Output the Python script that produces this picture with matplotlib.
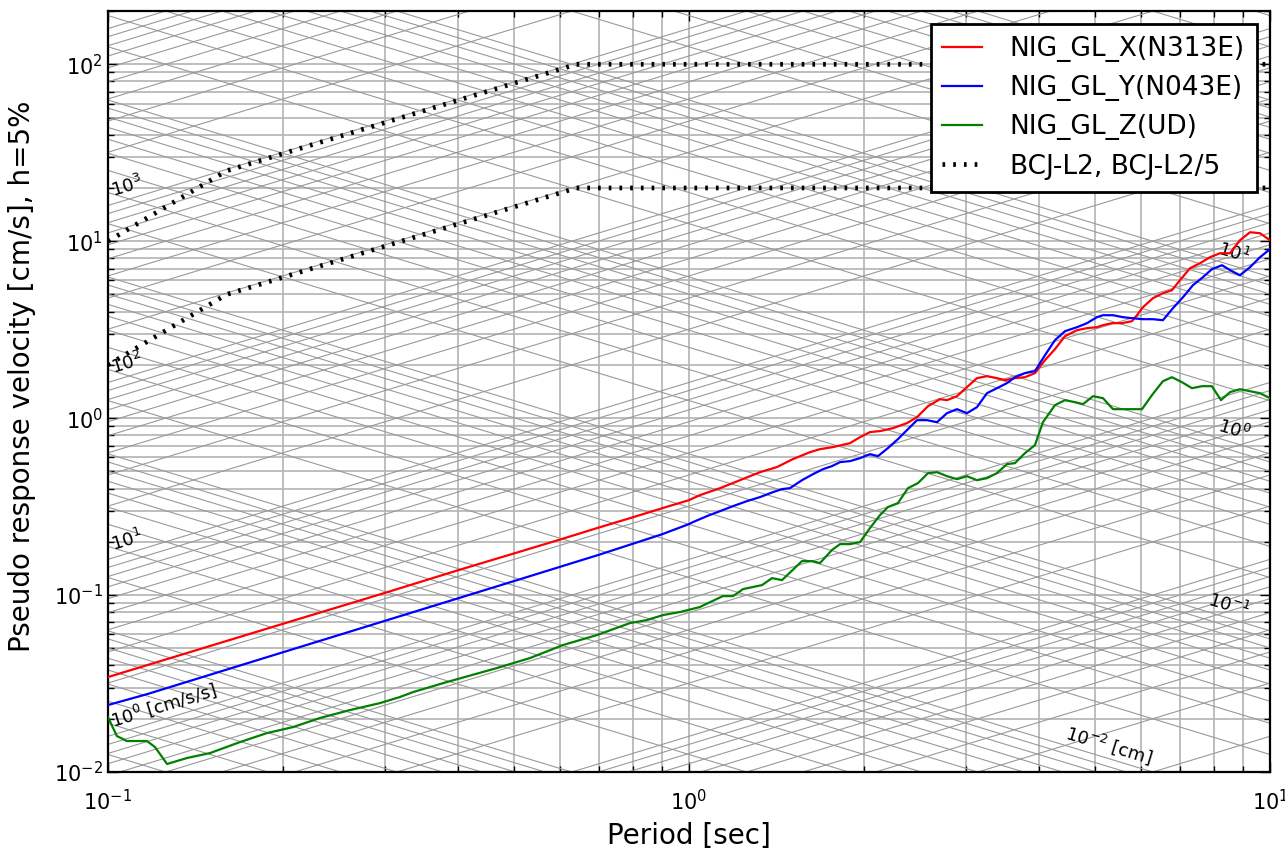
import numpy as np
import matplotlib
matplotlib.use("Agg")
import matplotlib.pyplot as plt

# ---------------- data ----------------
period_x = [0.1, 0.15, 0.2, 0.3, 0.4, 0.5, 0.6, 0.7, 0.8, 0.9, 1.0,
            1.044, 1.131, 1.224, 1.325, 1.417, 1.510, 1.615, 1.681, 1.769, 1.893,
            1.970, 2.049, 2.132, 2.244, 2.372, 2.469, 2.579, 2.704, 2.780, 2.893,
            3.009, 3.131, 3.258, 3.389, 3.499, 3.640, 3.787, 3.940, 4.100, 4.265,
            4.438, 4.655, 4.842, 5.038, 5.159, 5.346, 5.563, 5.787, 5.903, 6.045,
            6.289, 6.543, 6.781, 7.000, 7.285, 7.579, 7.885, 8.204, 8.535, 8.880,
            9.239, 9.612, 10.0]
sv_x = [0.0344, 0.0516, 0.0688, 0.103, 0.138, 0.172, 0.206, 0.241, 0.275, 0.310, 0.344,
        0.367, 0.402, 0.446, 0.495, 0.529, 0.587, 0.642, 0.668, 0.686, 0.722,
        0.781, 0.834, 0.845, 0.878, 0.937, 1.013, 1.169, 1.280, 1.264, 1.331,
        1.497, 1.683, 1.727, 1.683, 1.639, 1.683, 1.704, 1.796, 2.127, 2.454,
        2.906, 3.142, 3.225, 3.267, 3.354, 3.442, 3.442, 3.532, 3.818, 4.238,
        4.764, 5.084, 5.287, 6.021, 7.038, 7.511, 8.122, 8.555, 8.555, 10.13,
        11.24, 11.10, 10.13]

period_y = [0.1, 0.117, 0.2, 0.3, 0.5, 0.7, 0.9, 1.0,
            1.016, 1.074, 1.131, 1.191, 1.259, 1.325, 1.395, 1.446, 1.492, 1.565,
            1.635, 1.701, 1.762, 1.820, 1.893, 1.970, 2.049, 2.115, 2.200, 2.289,
            2.382, 2.469, 2.568, 2.673, 2.780, 2.893, 3.009, 3.131, 3.258, 3.389,
            3.526, 3.640, 3.787, 3.940, 4.100, 4.265, 4.438, 4.655, 4.842, 5.038,
            5.159, 5.369, 5.585, 5.787, 6.045, 6.289, 6.543, 6.808, 7.085, 7.369,
            7.665, 7.944, 8.268, 8.602, 8.880, 9.239, 9.612, 10.0]
sv_y = [0.0239, 0.0276, 0.0475, 0.0716, 0.120, 0.169, 0.221, 0.252,
        0.2585, 0.2795, 0.2982, 0.3183, 0.3398, 0.3578, 0.3819, 0.3971, 0.402, 0.446,
        0.4826, 0.515, 0.5356, 0.5643, 0.5717, 0.5943, 0.626, 0.610, 0.677, 0.761,
        0.867, 0.974, 0.974, 0.949, 1.067, 1.124, 1.067, 1.154, 1.384, 1.477,
        1.577, 1.704, 1.796, 1.843, 2.270, 2.759, 3.101, 3.267, 3.442, 3.721,
        3.818, 3.818, 3.721, 3.673, 3.625, 3.625, 3.578, 4.183, 4.827, 5.642,
        6.260, 6.946, 7.317, 6.768, 6.426, 7.131, 8.122, 9.013]

period_z = [0.1, 0.1036, 0.1078, 0.1167, 0.1205, 0.1264, 0.1368, 0.1499, 0.1688,
            0.1878, 0.2083, 0.2317, 0.2610, 0.294, 0.318, 0.335, 0.3832, 0.4672,
            0.5326, 0.6069, 0.6944, 0.7916, 0.8466, 0.9021, 0.965, 1.044, 1.144,
            1.191, 1.239, 1.336, 1.390, 1.446, 1.565, 1.628, 1.681, 1.762, 1.820,
            1.893, 1.970, 2.049, 2.132, 2.200, 2.289, 2.382, 2.478, 2.579, 2.673,
            2.780, 2.893, 3.009, 3.131, 3.258, 3.389, 3.526, 3.640, 3.787, 3.940,
            4.067, 4.265, 4.438, 4.618, 4.766, 4.960, 5.159, 5.369, 5.674, 6.022,
            6.264, 6.543, 6.781, 7.056, 7.341, 7.638, 7.944, 8.236, 8.535, 8.880,
            9.239, 9.612, 10.0]
sv_z = [0.02045, 0.01597, 0.01497, 0.01497, 0.01384, 0.01110, 0.0120, 0.0128, 0.01477,
        0.0166, 0.01795, 0.0202, 0.0224, 0.02453, 0.02653, 0.0283, 0.03225, 0.0387,
        0.04406, 0.05219, 0.05943, 0.06947, 0.07224, 0.0771, 0.0802, 0.0856, 0.0987,
        0.0987, 0.1081, 0.1139, 0.1247, 0.1215, 0.1556, 0.1556, 0.1517, 0.1796, 0.1941,
        0.1941, 0.1993, 0.2391, 0.2831, 0.3142, 0.3311, 0.402, 0.4293, 0.489, 0.495,
        0.470, 0.452, 0.470, 0.446, 0.458, 0.489, 0.5496, 0.5568, 0.634, 0.704,
        0.949, 1.184, 1.264, 1.231, 1.200, 1.331, 1.297, 1.124, 1.124, 1.124,
        1.349, 1.618, 1.704, 1.597, 1.477, 1.516, 1.516, 1.264, 1.403, 1.458,
        1.420, 1.384, 1.297]

period_bcj = [0.1, 0.16, 0.64, 10.0]
sv_bcj_l2 = [10.0, 25.0, 100.0, 100.0]
sv_bcj_l2_5 = [2.0, 5.0, 20.0, 20.0]

series_labels = ["NIG_GL_X(N313E)", "NIG_GL_Y(N043E)", "NIG_GL_Z(UD)", "BCJ-L2, BCJ-L2/5"]

acc_label_exps = [0, 1, 2, 3]          # [cm/s/s]
disp_label_exps = [-2, -1, 0, 1, 2]    # [cm]

# ---------------- figure ----------------
plt.rcParams['font.family'] = ['DejaVu Sans']
plt.rcParams['mathtext.fontset'] = 'dejavusans'

fig = plt.figure(figsize=(12.85, 8.48), dpi=100)
ax = fig.add_axes([0.084, 0.0896, 0.9043, 0.8974])

TMIN, TMAX = 0.1, 10.0
VMIN, VMAX = 0.01, 200.0
ax.set_xscale('log')
ax.set_yscale('log')
ax.set_xlim(TMIN, TMAX)
ax.set_ylim(VMIN, VMAX)

# tripartite diagonal grid lines
tt = np.array([TMIN, TMAX])
for n in range(-2, 6):
    for k in range(1, 10):
        sa = k * 10.0 ** n
        ax.plot(tt, sa * tt / (2 * np.pi), color='#999999', lw=0.8, zorder=1)
for n in range(-5, 4):
    for k in range(1, 10):
        d = k * 10.0 ** n
        ax.plot(tt, 2 * np.pi * d / tt, color='#999999', lw=0.8, zorder=1)

ax.grid(True, which='both', color='#b3b3b3', lw=1.2, zorder=0)
ax.set_axisbelow(True)

# diagonal labels
ang = 16.9
for e in acc_label_exps:
    sa = 10.0 ** e
    t0 = 0.1025
    txt = r'$10^{%d}$' % e + (' [cm/s/s]' if e == 0 else '')
    ax.text(t0, sa * t0 / (2 * np.pi) * 1.04, txt, rotation=ang, rotation_mode='anchor',
            ha='left', va='bottom', fontsize=13, zorder=3)
for e in disp_label_exps:
    d = 10.0 ** e
    t_exit = 2 * np.pi * d / VMIN
    t0 = min(9.1, t_exit * 0.985)
    txt = r'$10^{%d}$' % e + (' [cm]' if e == -2 else '')
    ax.text(t0, 2 * np.pi * d / t0 * 1.03, txt, rotation=-ang, rotation_mode='anchor',
            ha='right', va='bottom', fontsize=13, zorder=3)

# data
ax.plot(period_x, sv_x, color='#ff0000', lw=1.6, label=series_labels[0], zorder=5)
ax.plot(period_y, sv_y, color='#0000ff', lw=1.6, label=series_labels[1], zorder=5)
ax.plot(period_z, sv_z, color='#008000', lw=1.6, label=series_labels[2], zorder=5)
dots = (0, (0.57, 1.7))
ax.plot(period_bcj, sv_bcj_l2, color='black', lw=3.4, ls=dots,
        dash_capstyle='butt', label=series_labels[3], zorder=5)
ax.plot(period_bcj, sv_bcj_l2_5, color='black', lw=3.4, ls=dots,
        dash_capstyle='butt', zorder=5)

ax.tick_params(which='both', direction='in', top=True, right=True, labelsize=15)
ax.tick_params(which='major', length=7, width=1)
ax.tick_params(which='minor', length=4, width=1)
ax.tick_params(axis='x', pad=12)
for s in ax.spines.values():
    s.set_linewidth(1.6)

ax.set_xlabel('Period [sec]', fontsize=20, labelpad=6)
ax.set_ylabel('Pseudo response velocity [cm/s], h=5%', fontsize=20)
ax.yaxis.set_label_coords(-0.062, 0.52)

leg = ax.legend(loc='upper right', fontsize=19, fancybox=False, framealpha=1,
                edgecolor='black', borderaxespad=0.5, handlelength=1.5,
                handletextpad=1.05, borderpad=0.45, labelspacing=0.5)
leg.get_frame().set_linewidth(2)
leg.set_zorder(10)

fig.savefig('out.png', dpi=100)
